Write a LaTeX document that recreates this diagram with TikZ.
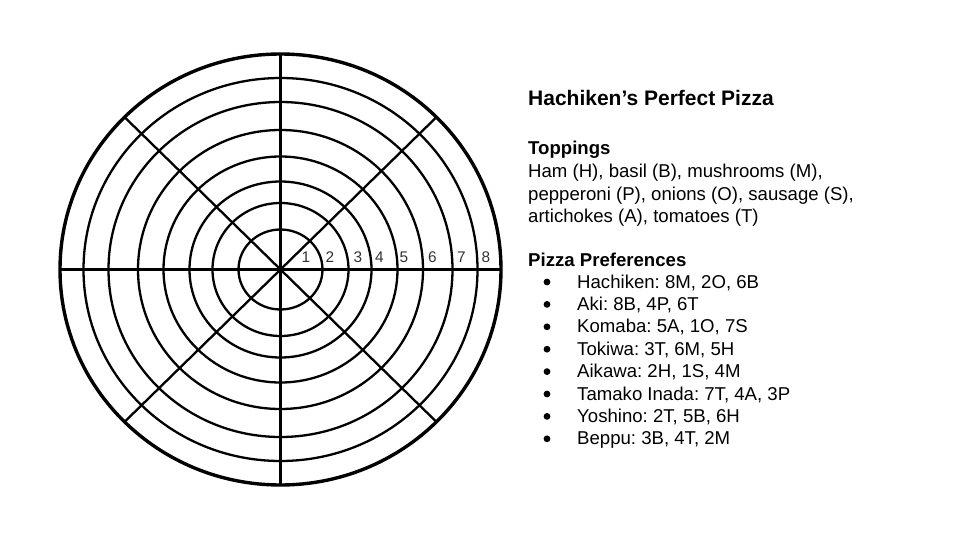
\documentclass[tikz,border=0pt]{standalone}
\usepackage{fontspec}
\setmainfont{Liberation Sans}
\usetikzlibrary{positioning}
\frenchspacing
\begin{document}
\begin{tikzpicture}[x=1pt,y=-1pt]
		\tikzstyle{ring} =[line width=2.3pt];
		\tikzstyle{crust} =[line width=3.4pt];
		\tikzstyle{num} =[font=\fontsize{15.4}{16}\selectfont, text=black!80, inner sep=0pt, anchor=base];
		\tikzstyle{txt} =[font=\fontsize{18.6}{22.5}\selectfont, inner sep=0pt, anchor=base west];
		\tikzstyle{head} =[txt, font=\fontsize{18.6}{22.5}\selectfont\bfseries];
		\useasboundingbox (0,0) rectangle (960,540);
		\fill[white] (0,0) rectangle (960,540);
		\coordinate (c) at (280.5,269.5);
		
		% rings of the pizza
		\foreach \rx/\ry in {42/40, 68/66.5, 91/88, 117/113, 142.5/139.5, 172/167.5, 197/191.5}
			\draw[ring] (c) ellipse [x radius=\rx pt, y radius=\ry pt];
		\draw[crust] (c) ellipse [x radius=220.5pt, y radius=215.5pt];
		
		% cuts
		\draw[ring] (c) ++(0,-215.5) -- ++(0,431);
		\draw[line width=2.7pt] (c) ++(-220.5,0) -- ++(441,0);
		\draw[ring] (c) ++(-156,-152.4) -- ++(312,304.8);
		\draw[ring] (c) ++(-156,152.4) -- ++(312,-304.8);
		
		% ring numbers
		\foreach \x [count=\i] in {306, 330, 358, 379.5, 404, 432.5, 461.5, 486}
			\node[num] (n\i) at (\x,262) {\i};
		
		\node[txt, font=\fontsize{21}{24}\selectfont\bfseries] (title) at (528,106) {Hachiken’s Perfect Pizza};
		\node[head] (toppings) at (528,155) {Toppings};
		\foreach \t [count=\i] in {{Ham (H), basil (B), mushrooms (M),}, {pepperoni (P), onions (O), sausage (S),}, {artichokes (A), tomatoes (T)}}
			\node[txt] (top\i) at (528,155+22.6*\i) {\t};
		
		\node[head] (prefs) at (528,266) {Pizza Preferences};
		\foreach \p [count=\i] in {{Hachiken: 8M, 2O, 6B}, {Aki: 8B, 4P, 6T}, {Komaba: 5A, 1O, 7S}, {Tokiwa: 3T, 6M, 5H}, {Aikawa: 2H, 1S, 4M}, {Tamako Inada: 7T, 4A, 3P}, {Yoshino: 2T, 5B, 6H}, {Beppu: 3B, 4T, 2M}}
		{
			\fill (547,282+22.4*\i-22.4) circle [radius=3.4pt];
			\node[txt] (p\i) at (577,288+22.4*\i-22.4) {\p};
		}
	\end{tikzpicture}
\end{document}
